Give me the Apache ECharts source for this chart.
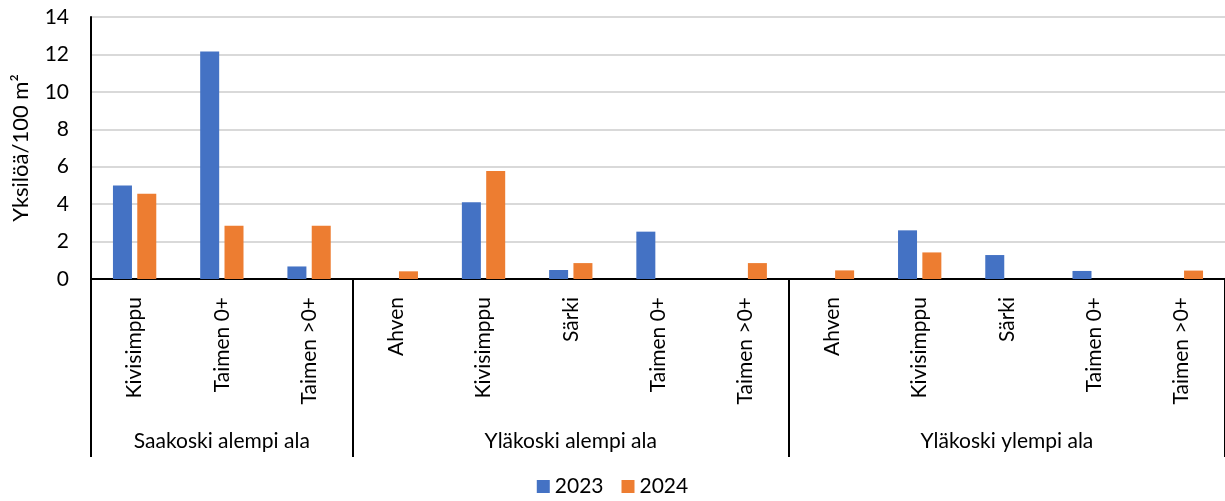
<!DOCTYPE html>
<html>
<head>
<meta charset="utf-8">
<script src="https://cdn.jsdelivr.net/npm/echarts@6/dist/echarts.min.js"></script>
<style>
  html, body { margin: 0; padding: 0; background: #fff; }
  #chart { width: 1225px; height: 501px; }
</style>
</head>
<body>
<div id="chart"></div>
<script>
// Species per sampling site
const categories = [
  'Kivisimppu', 'Taimen 0+', 'Taimen >0+',
  'Ahven', 'Kivisimppu', 'Särki', 'Taimen 0+', 'Taimen >0+',
  'Ahven', 'Kivisimppu', 'Särki', 'Taimen 0+', 'Taimen >0+'
];
// Site groups: name and number of species rows in each
const groupNames = ['Saakoski alempi ala', 'Yläkoski alempi ala', 'Yläkoski ylempi ala'];
const groupSizes = [3, 5, 5];

// Densities, individuals per 100 m²
const values2023 = [5.0, 12.15, 0.67, 0, 4.1, 0.48, 2.53, 0, 0, 2.6, 1.28, 0.43, 0];
const values2024 = [4.56, 2.85, 2.85, 0.41, 5.77, 0.85, 0, 0.85, 0.46, 1.42, 0, 0, 0.45];

const seriesNames = ['2023', '2024'];
const yTicks = { min: 0, max: 14, interval: 2 };

// Boundary indices between groups, and the middle row of each group for its label
const boundaries = [0];
const middles = [];
groupSizes.reduce((start, n, i) => {
  middles.push(start + Math.floor(n / 2));
  boundaries.push(start + n);
  return start + n;
}, 0);

const FONT = 'Lato';
const FS = 21;
const chart = echarts.init(document.getElementById('chart'), null, { renderer: 'canvas' });

chart.setOption({
  animation: false,
  textStyle: { fontFamily: FONT, color: '#000' },
  grid: { left: 91, right: -2, top: 17, bottom: 222, containLabel: false },
  legend: {
    bottom: -1,
    left: 'center',
    itemWidth: 13,
    itemHeight: 13,
    itemGap: 18,
    icon: 'rect',
    textStyle: { fontFamily: FONT, fontSize: FS, color: '#000' },
    data: seriesNames
  },
  xAxis: [
    {
      type: 'category',
      data: categories,
      axisLine: { show: true, lineStyle: { color: '#000', width: 2 } },
      axisTick: { show: false },
      axisLabel: {
        rotate: 90,
        interval: 0,
        margin: 18,
        fontFamily: FONT,
        fontSize: FS,
        color: '#000'
      }
    },
    {
      type: 'category',
      data: categories,
      position: 'bottom',
      axisLine: { show: false },
      axisTick: {
        show: true,
        inside: false,
        length: 178,
        interval: (index) => boundaries.indexOf(index) !== -1,
        lineStyle: { color: '#000', width: 2 }
      },
      axisLabel: {
        interval: 0,
        margin: 152,
        fontFamily: FONT,
        fontSize: FS,
        color: '#000',
        formatter: (value, index) => {
          const g = middles.indexOf(index);
          return g === -1 ? '' : groupNames[g];
        }
      }
    }
  ],
  yAxis: {
    type: 'value',
    min: yTicks.min,
    max: yTicks.max,
    interval: yTicks.interval,
    name: 'Yksilöä/100 m²',
    nameLocation: 'middle',
    nameGap: 59,
    nameRotate: 90,
    nameTextStyle: { fontFamily: FONT, fontSize: 22, color: '#000' },
    axisLine: { show: true, lineStyle: { color: '#000', width: 2 } },
    axisTick: { show: false },
    axisLabel: { fontFamily: FONT, fontSize: FS, color: '#000', margin: 22 },
    splitLine: { show: true, lineStyle: { color: '#d9d9d9', width: 2 } }
  },
  series: [
    {
      name: seriesNames[0],
      type: 'bar',
      data: values2023,
      barWidth: 19,
      barGap: '28%',
      itemStyle: { color: '#4472C4' }
    },
    {
      name: seriesNames[1],
      type: 'bar',
      data: values2024,
      barWidth: 19,
      barGap: '28%',
      itemStyle: { color: '#ED7D31' }
    }
  ]
});
</script>
</body>
</html>
